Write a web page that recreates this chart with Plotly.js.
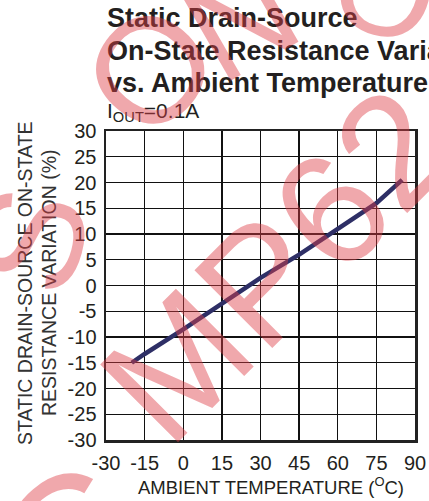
<!DOCTYPE html>
<html><head><meta charset="utf-8">
<script src="https://cdn.plot.ly/plotly-3.0.1.min.js"></script>
<style>html,body{margin:0;padding:0;background:#fff}#chart{width:429px;height:501px}</style>
</head><body><div id="chart"></div>
<script>
const temperature = [-20, -15, 0, 15, 30, 45, 60, 75, 85];
const variation = [-15, -13.3, -8.5, -3.4, 1.5, 6, 11, 16, 20.5];
const xTicks = [-30, -15, 0, 15, 30, 45, 60, 75, 90];
const yTicks = [30, 25, 20, 15, 10, 5, 0, -5, -10, -15, -20, -25, -30];
const titleLines = ["Static Drain-Source", "On-State Resistance Variation", "vs. Ambient Temperature"];
const yTitleLines = ["STATIC DRAIN-SOURCE ON-STATE", "RESISTANCE VARIATION (%)"];
const xTitle = "AMBIENT TEMPERATURE (<sup>O</sup>C)";
const condition = "I<sub>OUT</sub>=0.1A";

const L = 106, R = 415, T = 131, B = 440, W = 309, H = 309;
const px = x => (x - L) / W, py = y => (B - y) / H;
const font = "Arial, 'Liberation Sans', sans-serif";
const ink = '#231f20';
const wm = 'rgba(222,62,72,0.45)';

const ann = [];
titleLines.forEach((t, i) => ann.push({
  text: '<b>' + t + '</b>', xref: 'paper', yref: 'paper', x: px(105), y: py(18 + i * 32.5),
  xanchor: 'left', yanchor: 'middle', showarrow: false,
  font: {family: font, size: 27, color: ink}
}));
ann.push({text: condition, xref: 'paper', yref: 'paper', x: px(105), y: py(112),
  xanchor: 'left', yanchor: 'middle', showarrow: false, font: {family: font, size: 21, color: ink}});
yTitleLines.forEach((t, i) => ann.push({
  text: t, xref: 'paper', yref: 'paper', x: px(25 + i * 24), y: py(283),
  xanchor: 'center', yanchor: 'middle', textangle: -90, showarrow: false,
  font: {family: font, size: 19.5, color: '#333'}
}));
ann.push({text: xTitle, xref: 'paper', yref: 'paper', x: px(271), y: py(486),
  xanchor: 'center', yanchor: 'middle', showarrow: false, font: {family: font, size: 18.5, color: ink}});
// watermark
ann.push({text: 'MP62', xref: 'paper', yref: 'paper', x: px(277), y: py(264), xanchor: 'center', yanchor: 'middle',
  textangle: -45, showarrow: false, font: {family: font, size: 160, color: wm}});
[['C', 70, 540, -40, 180], ['S', 30, 240, -75, 150], ['O', 150, 70, -50, 150], ['N', 240, 20, -30, 140], ['O', 385, -10, 15, 130]].forEach(a =>
  ann.push({text: a[0], xref: 'paper', yref: 'paper', x: px(a[1]), y: py(a[2]), xanchor: 'center', yanchor: 'middle',
    textangle: a[3], showarrow: false, font: {family: font, size: a[4], color: wm}}));

const trace = {x: temperature, y: variation, type: 'scatter', mode: 'lines',
  line: {color: '#2e2f66', width: 4.5}, hoverinfo: 'skip'};

const layout = {
  width: 429, height: 501, margin: {l: L, r: 429 - R, t: T, b: 501 - B},
  paper_bgcolor: '#fff', plot_bgcolor: '#fff', showlegend: false,
  xaxis: {range: [-30, 90], tickvals: xTicks, ticktext: xTicks.map(String), showgrid: true, gridcolor: '#111', gridwidth: 1.4,
    zeroline: false, showline: true, linecolor: '#222', linewidth: 2.5, mirror: true, ticks: '', ticklabelstandoff: 3,
    tickfont: {family: font, size: 20, color: ink}},
  yaxis: {range: [-30, 30], tickvals: yTicks, ticktext: yTicks.map(String), showgrid: true, gridcolor: '#111', gridwidth: 1.4,
    zeroline: false, showline: true, linecolor: '#222', linewidth: 2.5, mirror: true, ticks: '', ticklabelstandoff: 3,
    tickfont: {family: font, size: 20, color: ink}},
  annotations: ann
};
Plotly.newPlot('chart', [trace], layout, {staticPlot: true, displayModeBar: false});
</script></body></html>
